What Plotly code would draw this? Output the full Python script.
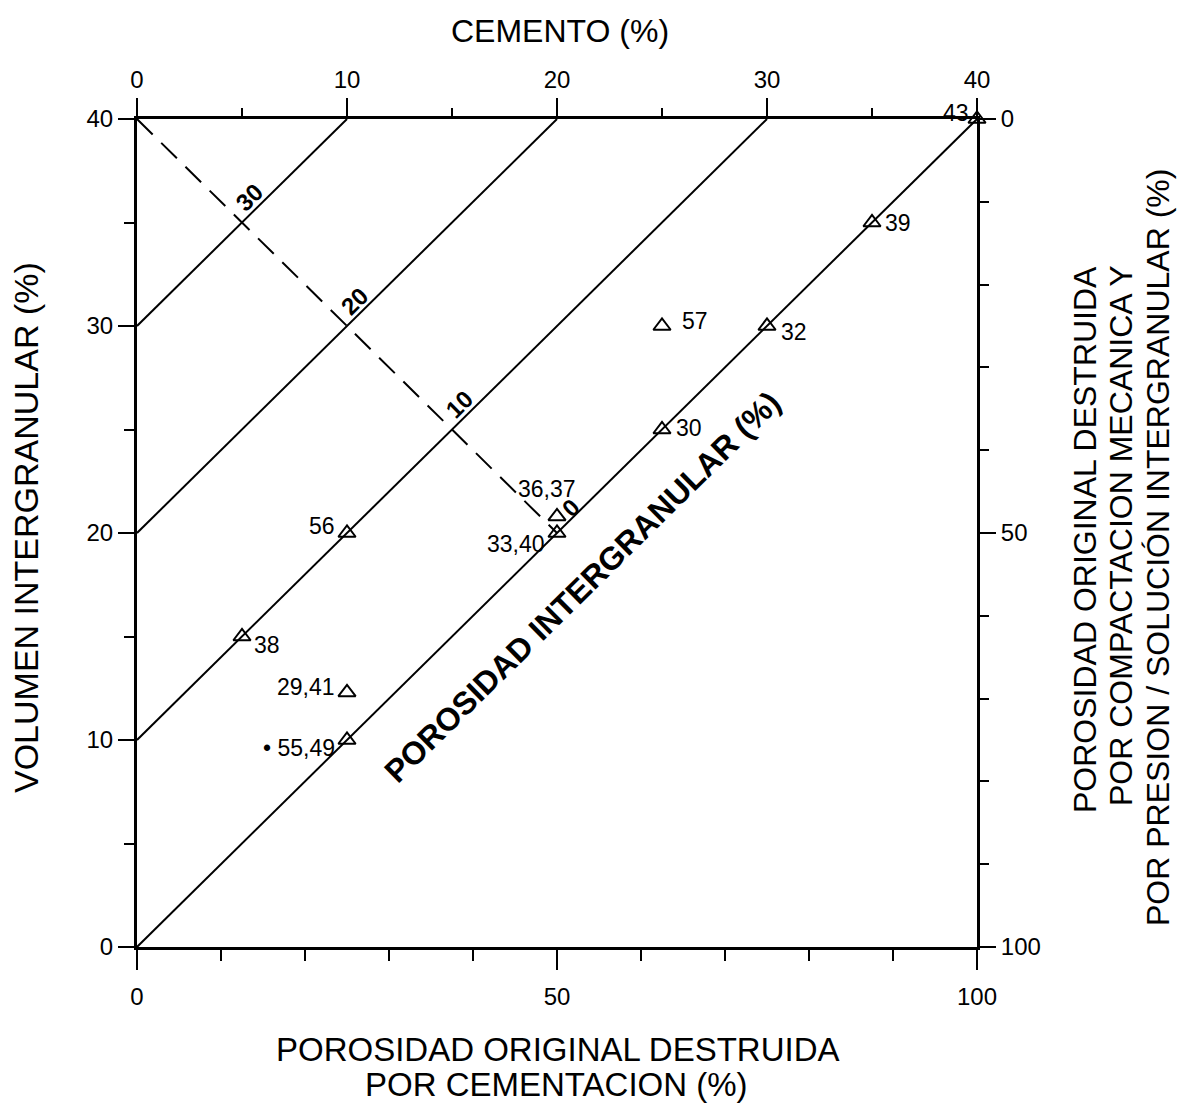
import plotly.graph_objects as go

# ---------------- data ----------------
original_porosity = 40                    # % (scale of the left axis / cement axis)
porosity_levels = [0, 10, 20, 30]         # intergranular porosity isolines (%)
dashed_levels = [30, 20, 10, 0]           # labels along the dashed guide line

cement_ticks = [0, 10, 20, 30, 40]        # top axis  (CEMENTO %)
igv_ticks = [0, 10, 20, 30, 40]           # left axis (VOLUMEN INTERGRANULAR %)
cementation_ticks = [0, 50, 100]          # bottom axis
compaction_ticks = [0, 50, 100]           # right axis (reversed)

sample_labels = ["43", "39", "57", "32", "30", "36,37", "33,40", "56", "38", "29,41", "• 55,49"]
sample_x = [100, 87.5, 62.5, 75, 62.5, 50, 50, 25, 12.5, 25, 25]      # % destroyed by cementation
sample_y = [40, 35, 30, 30, 25, 20.8, 20, 20, 15, 12.3, 10]           # intergranular volume %

# label placement styles (pixel offsets relative to the point)
label_style = {
    "43": dict(xanchor="right", xshift=-6, yshift=6),
    "39": dict(xanchor="left", xshift=11, yshift=0),
    "57": dict(xanchor="left", xshift=18, yshift=5),
    "32": dict(xanchor="left", xshift=12, yshift=-6),
    "30": dict(xanchor="left", xshift=12, yshift=2),
    "36,37": dict(xanchor="center", xshift=-10, yshift=27),
    "33,40": dict(xanchor="right", xshift=-10, yshift=-11),
    "56": dict(xanchor="right", xshift=-10, yshift=7),
    "38": dict(xanchor="left", xshift=10, yshift=-8),
    "29,41": dict(xanchor="right", xshift=-10, yshift=5),
    "• 55,49": dict(xanchor="right", xshift=-10, yshift=-8),
}

FONT = "Liberation Sans, Arial, Helvetica, sans-serif"
BLACK = "black"

# plot-area geometry (page body adds an 8px offset)
L, T, PW, PH = 129, 111, 840, 828
W, H = 1187, 1108

fig = go.Figure()

# isolines of intergranular porosity (plotted on the cement axis)
for p in porosity_levels:
    cem = [0, original_porosity - p]
    igv = [p + c for c in cem]
    fig.add_trace(go.Scatter(x=cem, y=igv, xaxis="x2", yaxis="y", mode="lines",
                             line=dict(color=BLACK, width=2), showlegend=False,
                             hoverinfo="skip"))

# dashed guide line: IGV = 40 - cement
cem_d = [0, original_porosity / 2]
igv_d = [original_porosity - c for c in cem_d]
fig.add_trace(go.Scatter(x=cem_d, y=igv_d, xaxis="x2", yaxis="y", mode="lines",
                         line=dict(color=BLACK, width=2, dash="22px,12px"),
                         showlegend=False, hoverinfo="skip"))

# sample points
fig.add_trace(go.Scatter(x=sample_x, y=sample_y, xaxis="x", yaxis="y", mode="markers",
                         marker=dict(symbol="triangle-up-open", size=15,
                                     line=dict(color=BLACK, width=2), color=BLACK),
                         cliponaxis=False, showlegend=False))

# invisible trace so that the right (compaction) axis is drawn
fig.add_trace(go.Scatter(x=[cementation_ticks[-1]] * len(compaction_ticks), y=compaction_ticks,
                         xaxis="x", yaxis="y2", mode="markers",
                         marker=dict(opacity=0, size=1), showlegend=False,
                         hoverinfo="skip"))

annotations = []
for lab, xv, yv in zip(sample_labels, sample_x, sample_y):
    st = label_style[lab]
    annotations.append(dict(x=xv, y=yv, xref="x", yref="y", text=lab, showarrow=False,
                            font=dict(family=FONT, size=23, color=BLACK),
                            yanchor="middle", **st))

# labels along the dashed line
for p in dashed_levels:
    c = (original_porosity - p) / 2
    annotations.append(dict(x=c, y=original_porosity - c, xref="x2", yref="y",
                            text="<b>%d</b>" % p, showarrow=False, textangle=-44.6,
                            font=dict(family=FONT, size=24, color=BLACK),
                            xshift=7 if p else 13, yshift=25))

# big diagonal label
annotations.append(dict(x=53, y=17.4, xref="x", yref="y",
                        text="<b>POROSIDAD INTERGRANULAR (%)</b>", showarrow=False,
                        textangle=-44.6, font=dict(family=FONT, size=32, color=BLACK)))


def px(xpix):
    return (xpix - 8 - L) / PW


def py(ypix):
    return (T + PH - (ypix - 8)) / PH


titles = [
    ("CEMENTO (%)", 560, 31, 0, 32),
    ("VOLUMEN INTERGRANULAR (%)", 26, 528, -90, 34),
    ("POROSIDAD ORIGINAL DESTRUIDA", 558, 1049, 0, 33),
    ("POR CEMENTACION (%)", 556, 1084, 0, 33),
    ("POROSIDAD ORIGINAL DESTRUIDA", 1085, 540, -90, 32),
    ("POR COMPACTACION MECANICA Y", 1121, 536, -90, 32),
    ("POR PRESION / SOLUCIÓN INTERGRANULAR (%)", 1158, 548, -90, 32),
]
for txt, xp, yp, ang, fs in titles:
    annotations.append(dict(x=px(xp), y=py(yp), xref="paper", yref="paper", text=txt,
                            showarrow=False, textangle=ang, xanchor="center",
                            yanchor="middle",
                            font=dict(family=FONT, size=fs, color=BLACK)))

tick_font = dict(family=FONT, size=24, color=BLACK)
common = dict(showline=True, linewidth=3, linecolor=BLACK, showgrid=False,
              zeroline=False, ticks="outside", tickcolor=BLACK, tickwidth=1.5,
              tickfont=tick_font, fixedrange=True, automargin=False)

fig.update_layout(
    width=W, height=H,
    margin=dict(l=L, r=W - L - PW, t=T, b=H - T - PH, autoexpand=False),
    paper_bgcolor="white", plot_bgcolor="white",
    font=dict(family=FONT, color=BLACK),
    xaxis=dict(range=[0, 100], tickvals=cementation_ticks, ticklen=20,
               ticklabelstandoff=6, side="bottom", anchor="y",
               minor=dict(dtick=10, ticks="outside", ticklen=11, tickwidth=1.5,
                          tickcolor=BLACK, showgrid=False), **common),
    xaxis2=dict(range=[0, original_porosity], tickvals=cement_ticks, ticklen=18,
                overlaying="x", side="top", anchor="y",
                minor=dict(dtick=5, ticks="outside", ticklen=8, tickwidth=1.5,
                           tickcolor=BLACK, showgrid=False), **common),
    yaxis=dict(range=[0, original_porosity], tickvals=igv_ticks, ticklen=16,
               side="left", anchor="x",
               minor=dict(dtick=5, ticks="outside", ticklen=10, tickwidth=1.5,
                          tickcolor=BLACK, showgrid=False), **common),
    yaxis2=dict(range=[100, 0], tickvals=compaction_ticks, ticklen=16,
                overlaying="y", side="right", anchor="x",
                minor=dict(dtick=10, ticks="outside", ticklen=9, tickwidth=1.5,
                           tickcolor=BLACK, showgrid=False), **common),
    annotations=annotations,
    showlegend=False,
)

fig.write_html("out.html")
